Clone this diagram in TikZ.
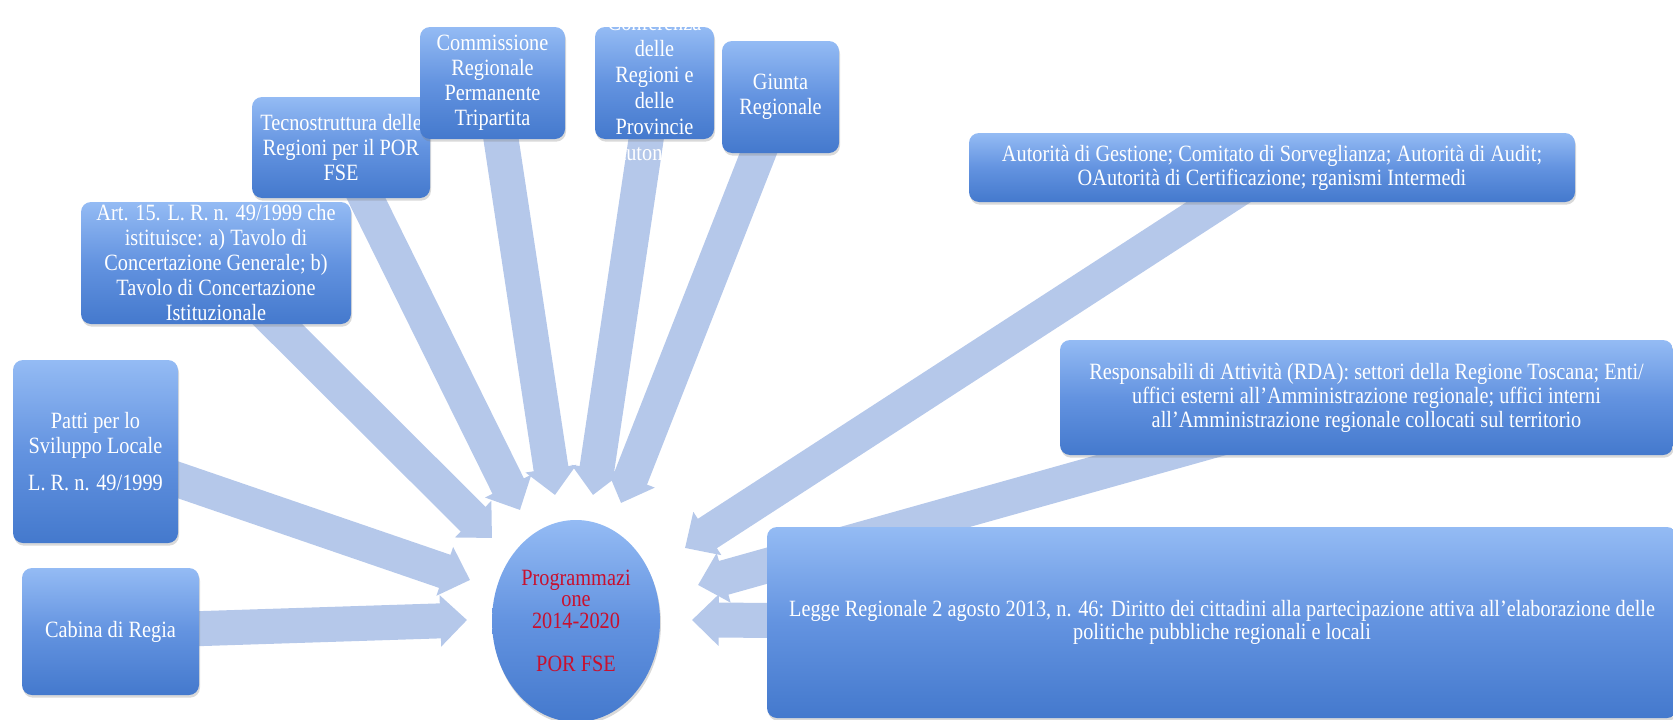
\documentclass[tikz,border=0pt]{standalone}
\usepackage{fontspec}
\setmainfont{Liberation Serif}[FakeStretch=0.87]
\usetikzlibrary{arrows.meta,shapes.geometric,shadows,backgrounds}

\definecolor{boxtop}{RGB}{148,187,244}
\definecolor{boxmid}{RGB}{99,147,224}
\definecolor{boxbot}{RGB}{68,121,205}
\definecolor{flowblue}{RGB}{181,200,234}
\definecolor{progred}{RGB}{200,16,46}

\begin{document}
\begin{tikzpicture}[x=0.6pt, y=-0.6pt, font=\fontsize{14}{15}\selectfont,
  box/.style={rounded corners=6pt, top color=boxtop, bottom color=boxbot,
    middle color=boxmid, text=white, align=center, inner sep=1pt,
    drop shadow={shadow xshift=0.6pt, shadow yshift=-1.6pt, opacity=0.3}},
  prog/.style={ellipse, top color=boxtop, bottom color=boxbot, middle color=boxmid,
    text=progred, align=center, inner sep=0pt,
    drop shadow={shadow xshift=0.6pt, shadow yshift=-1.6pt, opacity=0.3}},
  flow/.style={draw=flowblue, line width=21pt, -{Triangle[length=16pt, width=30pt]}}]
  \useasboundingbox (0,0) rectangle (1673,720);
  % Left and top boxes
  \node[box, minimum width=106.8pt, minimum height=60.6pt] (tecno) at (341,147.5)
    {Tecnostruttura delle\\Regioni per il POR\\FSE};
  \node[box, minimum width=87pt, minimum height=67.2pt] (commis) at (492.5,83)
    {Commissione\\Regionale\\Permanente\\Tripartita};
  \node[box, minimum width=71.4pt, minimum height=67.2pt] (confer) at (654.5,83) {};
  \node[text=white, align=center, font=\fontsize{14}{15.6}\selectfont] (conftxt) at (654.5,87)
    {Conferenza\\delle\\Regioni e\\delle\\Provincie\\Autonome};
  \node[box, minimum width=70.2pt, minimum height=67.2pt] (giunta) at (780.5,97)
    {Giunta\\Regionale};
  \node[box, inner ysep=0pt, minimum width=162pt, minimum height=73.2pt] (art) at (216,263)
    {Art. 15. L. R. n. 49/1999 che\\istituisce: a) Tavolo di\\Concertazione Generale; b)\\Tavolo di Concertazione\\Istituzionale};
  \node[box, minimum width=99pt, minimum height=109.8pt] (patti) at (95.5,451.5)
    {Patti per lo\\Sviluppo Locale\\[7pt]L. R. n. 49/1999};
  \node[box, minimum width=106.2pt, minimum height=76.2pt] (cabina) at (110.5,631.5)
    {Cabina di Regia};
  % Right boxes
  \node[box, font=\fontsize{14}{14.4}\selectfont, minimum width=363.6pt, minimum height=41.4pt]
    (autor) at (1272,167.5)
    {Autorità di Gestione; Comitato di Sorveglianza; Autorità di Audit;\\OAutorità di Certificazione; rganismi Intermedi};
  \node[box, font=\fontsize{14}{14.4}\selectfont, minimum width=367.8pt, minimum height=69pt]
    (respo) at (1366.5,397.5)
    {Responsabili di Attività (RDA): settori della Regione Toscana; Enti/\\uffici esterni all’Amministrazione regionale; uffici interni\\all’Amministrazione regionale collocati sul territorio};
  \node[box, font=\fontsize{14}{14}\selectfont, minimum width=546pt, minimum height=114.6pt]
    (legge) at (1222,622.5)
    {Legge Regionale 2 agosto 2013, n. 46: Diritto dei cittadini alla partecipazione attiva all’elaborazione delle\\politiche pubbliche regionali e locali};
  % Centre
  \node[prog, font=\fontsize{14}{13}\selectfont, minimum width=100.8pt, minimum height=121.2pt]
    (prog) at (576,621) {Programmazi\\one\\2014-2020\\[13pt]POR FSE};
  % Arrow tips
  \coordinate (tcab) at (467,620);
  \coordinate (tpat) at (470,580);
  \coordinate (tart) at (492,538);
  \coordinate (ttec) at (520,510);
  \coordinate (tcom) at (555,495);
  \coordinate (tcon) at (593,495);
  \coordinate (tgiu) at (621,503);
  \coordinate (taut) at (685,548);
  \coordinate (tres) at (698,585);
  \coordinate (tleg) at (692,620);
  % Arrows
  \begin{scope}[on background layer]
    \foreach \src/\tip in {cabina/tcab, patti/tpat, art/tart, tecno/ttec, commis/tcom,
        confer/tcon, giunta/tgiu, autor/taut, respo/tres, legge/tleg}
      \draw[flow] (\src.center) -- (\tip);
  \end{scope}
\end{tikzpicture}
\end{document}
